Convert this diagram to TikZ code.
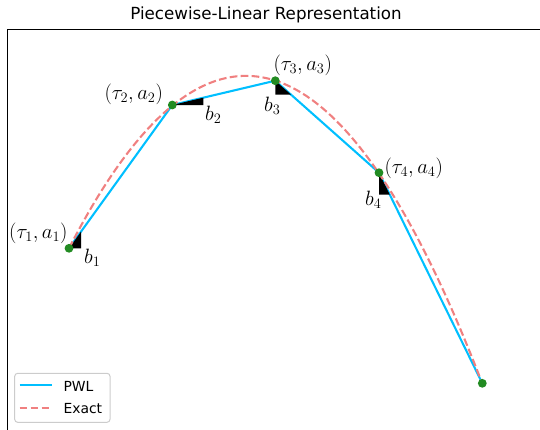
\documentclass[tikz,border=0pt]{standalone}
\usepackage{fontspec}
\newfontfamily\djv{DejaVu Sans}
\definecolor{pwlc}{HTML}{00BFFF}
\definecolor{exactc}{HTML}{F08080}
\definecolor{dotc}{HTML}{228B22}
\definecolor{legedge}{HTML}{CCCCCC}
\tikzset{
  pwlline/.style={draw=pwlc, line width=2.08, line cap=butt},
  exactline/.style={draw=exactc, line width=2.08, dash pattern=on 7.7 off 3.3},
  ptdot/.style={fill=dotc},
  slopetri/.style={fill=black},
  lab/.style={anchor=base west, inner sep=0, font=\huge},
  legtext/.style={anchor=base west, inner sep=0, font=\fontsize{13.9}{16}\djv},
  spine/.style={draw=black, line width=1.1, line cap=rect}
}
\begin{document}
\begin{tikzpicture}[x=1pt,y=-1pt]
\useasboundingbox (0,0) rectangle (540,429);
% axes spines
\coordinate (ax0) at (7.3,431);
\coordinate (ax1) at (7.3,29.5);
\coordinate (ax2) at (542,29.5);
\draw[spine] (ax0) -- (ax1) -- (ax2);
% title
\node[anchor=base, inner sep=0, font=\fontsize{16.7}{20}\djv] (title) at (266,19.3) {Piecewise-Linear Representation};
% points
\coordinate (p1) at (69,248.3);
\coordinate (p2) at (172.3,105);
\coordinate (p3) at (275.3,80.7);
\coordinate (p4) at (379,172.7);
\coordinate (p5) at (482.3,383.3);
% PWL
\draw[pwlline] (p1) -- (p2) -- (p3) -- (p4) -- (p5);
% slope triangles
\fill[slopetri] (p1) -- ++(12,0) -- ++(0,-16.6) -- cycle;
\fill[slopetri] (p2) -- ++(31,0) -- ++(0,-7.3) -- cycle;
\fill[slopetri] (p3) -- ++(0,13.8) -- ++(15.6,0) -- cycle;
\fill[slopetri] (p4) -- ++(0,22) -- ++(10.8,0) -- cycle;
% exact curve
\draw[exactline] plot[domain=0:4, samples=140, variable=\t] ({69+103.3*\t},{248.3-201.36*\t+58.78*\t*\t});
% dots
\foreach \p in {p1,p2,p3,p4,p5} \fill[ptdot] (\p) circle (4.4);
% labels
\node[lab] (l1) at (9,238.3) {$(\tau_1,a_1)$};
\node[lab] (l2) at (104.3,99.8) {$(\tau_2,a_2)$};
\node[lab] (l3) at (273.3,70) {$(\tau_3,a_3)$};
\node[lab] (l4) at (384.3,173) {$(\tau_4,a_4)$};
\node[lab] (b1) at (84,263.5) {$b_1$};
\node[lab] (b2) at (205,120) {$b_2$};
\node[lab] (b3) at (264,111.7) {$b_3$};
\node[lab] (b4) at (365,205) {$b_4$};
% legend
\draw[draw=legedge, line width=1, fill=white, rounded corners=3] (14.7,373.3) rectangle (110,422.3);
\coordinate (lg1a) at (19.5,385);
\coordinate (lg1b) at (51.7,385);
\coordinate (lg2a) at (19.5,407.7);
\coordinate (lg2b) at (51.7,407.7);
\draw[pwlline] (lg1a) -- (lg1b);
\draw[exactline] (lg2a) -- (lg2b);
\node[legtext] (t1) at (63.3,391.7) {PWL};
\node[legtext] (t2) at (63.3,413.3) {Exact};
\end{tikzpicture}
\end{document}
